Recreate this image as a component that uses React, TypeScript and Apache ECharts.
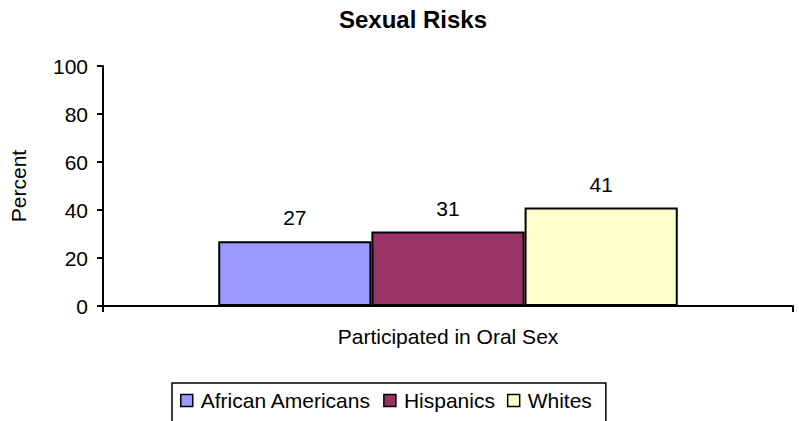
import React, { useEffect, useRef } from "react";
import * as echarts from "echarts";

const categories = ["Participated in Oral Sex"];
const seriesNames = ["African Americans", "Hispanics", "Whites"];
const africanAmericans = [27];
const hispanics = [31];
const whites = [41];
const seriesColors = ["#9999FF", "#993366", "#FFFFCC"];
const yTicks = { min: 0, max: 100, interval: 20 };

const FONT = "'Liberation Sans', Arial, sans-serif";

export default function App() {
  const ref = useRef<HTMLDivElement>(null);
  useEffect(() => {
    if (!ref.current) return;
    const chart = echarts.init(ref.current, null, { renderer: "svg" });
    const values = [africanAmericans, hispanics, whites];
    chart.setOption({
      animation: false,
      backgroundColor: "#ffffff",
      textStyle: { fontFamily: FONT, color: "#000" },
      title: {
        text: "Sexual Risks",
        left: 413,
        textAlign: "center",
        top: 7,
        padding: 0,
        textStyle: { fontFamily: FONT, fontSize: 24, fontWeight: "bold", color: "#000" },
      },
      grid: { left: 96, right: 6, top: 66, bottom: 115, containLabel: false },
      legend: {
        left: 172,
        top: 383,
        orient: "horizontal",
        itemWidth: 12,
        itemHeight: 12,
        itemGap: 12,
        padding: [7, 14, 40, 8],
        borderColor: "#000",
        borderWidth: 1.5,
        icon: "rect",
        textStyle: { fontFamily: FONT, fontSize: 21, color: "#000", padding: [0, 0, 0, 3] },
        itemStyle: { borderColor: "#000", borderWidth: 1.5 },
        data: seriesNames,
      },
      xAxis: {
        type: "category",
        data: categories,
        axisLine: { lineStyle: { color: "#000", width: 2 } },
        axisTick: { show: true, length: 6, lineStyle: { color: "#000", width: 2 } },
        axisLabel: { fontFamily: FONT, fontSize: 21, color: "#000", margin: 20 },
        splitLine: { show: false },
      },
      yAxis: {
        type: "value",
        min: yTicks.min,
        max: yTicks.max,
        interval: yTicks.interval,
        name: "Percent",
        nameLocation: "middle",
        nameRotate: 90,
        nameGap: 74,
        nameTextStyle: { fontFamily: FONT, fontSize: 21, color: "#000" },
        axisLine: { show: true, lineStyle: { color: "#000", width: 2 } },
        axisTick: { show: true, length: 6, lineStyle: { color: "#000", width: 2 } },
        axisLabel: { fontFamily: FONT, fontSize: 21, color: "#000", margin: 15 },
        splitLine: { show: false },
      },
      series: seriesNames.map((name, i) => ({
        name,
        type: "bar",
        data: values[i],
        barGap: "0%",
        barCategoryGap: "33.4%",
        itemStyle: { color: seriesColors[i], borderColor: "#000", borderWidth: 2 },
        label: {
          show: true,
          position: "top",
          distance: 13,
          fontFamily: FONT,
          fontSize: 21,
          color: "#000",
        },
      })),
    });
    return () => chart.dispose();
  }, []);
  return (
    <div
      ref={ref}
      style={{ position: "fixed", left: 0, top: 0, width: 799, height: 421 }}
    />
  );
}
